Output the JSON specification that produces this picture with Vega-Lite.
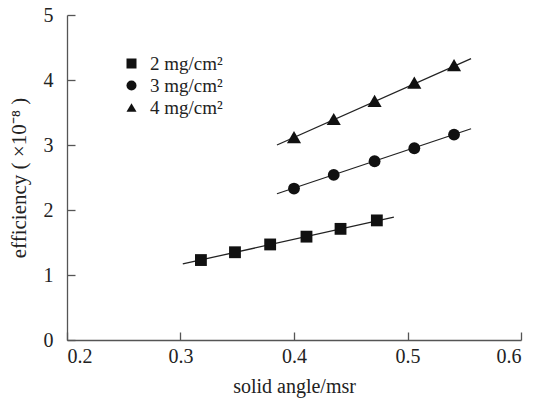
{
  "$schema": "https://vega.github.io/schema/vega-lite/v6.json",
  "width": 454,
  "height": 325,
  "autosize": "none",
  "padding": {"left": 67, "top": 15, "right": 14, "bottom": 67},
  "background": "white",
  "config": {
    "view": {"stroke": null},
    "font": "Liberation Serif",
    "axis": {
      "grid": false,
      "domainColor": "#555555",
      "tickColor": "#555555",
      "labelColor": "#222222",
      "titleColor": "#222222",
      "labelFont": "Liberation Serif",
      "titleFont": "Liberation Serif",
      "labelFontSize": 20,
      "titleFontSize": 20,
      "titleFontWeight": "normal",
      "domainWidth": 1.3,
      "tickWidth": 1.3
    },
    "legend": {
      "labelFont": "Liberation Serif",
      "labelFontSize": 19,
      "labelColor": "#222222"
    }
  },
  "datasets": {
    "points": [
      {"x": 0.318, "y": 1.23, "s": "2 mg/cm²"},
      {"x": 0.348, "y": 1.35, "s": "2 mg/cm²"},
      {"x": 0.379, "y": 1.47, "s": "2 mg/cm²"},
      {"x": 0.411, "y": 1.59, "s": "2 mg/cm²"},
      {"x": 0.441, "y": 1.71, "s": "2 mg/cm²"},
      {"x": 0.473, "y": 1.84, "s": "2 mg/cm²"},
      {"x": 0.400, "y": 2.33, "s": "3 mg/cm²"},
      {"x": 0.435, "y": 2.54, "s": "3 mg/cm²"},
      {"x": 0.471, "y": 2.75, "s": "3 mg/cm²"},
      {"x": 0.506, "y": 2.95, "s": "3 mg/cm²"},
      {"x": 0.541, "y": 3.16, "s": "3 mg/cm²"},
      {"x": 0.400, "y": 3.12, "s": "4 mg/cm²"},
      {"x": 0.435, "y": 3.40, "s": "4 mg/cm²"},
      {"x": 0.471, "y": 3.68, "s": "4 mg/cm²"},
      {"x": 0.506, "y": 3.96, "s": "4 mg/cm²"},
      {"x": 0.541, "y": 4.23, "s": "4 mg/cm²"}
    ],
    "fits": [
      {"x": 0.302, "y": 1.17, "s": "2 mg/cm²"},
      {"x": 0.488, "y": 1.89, "s": "2 mg/cm²"},
      {"x": 0.385, "y": 2.25, "s": "3 mg/cm²"},
      {"x": 0.556, "y": 3.25, "s": "3 mg/cm²"},
      {"x": 0.385, "y": 3.00, "s": "4 mg/cm²"},
      {"x": 0.556, "y": 4.33, "s": "4 mg/cm²"}
    ]
  },
  "layer": [
    {
      "data": {"name": "fits"},
      "mark": {"type": "line", "color": "#222222", "strokeWidth": 1.3},
      "encoding": {
        "x": {"field": "x", "type": "quantitative", "scale": {"domain": [0.2, 0.6], "nice": false, "zero": false},
              "axis": {"title": "solid angle/msr", "values": [0.2, 0.3, 0.4, 0.5, 0.6], "format": ".1f", "tickSize": -8, "labelPadding": 14, "titlePadding": 10}},
        "y": {"field": "y", "type": "quantitative", "scale": {"domain": [0, 5], "nice": false},
              "axis": {"title": "efficiency  ( ×10⁻⁸ )", "titleFontSize": 21, "values": [0, 1, 2, 3, 4, 5], "format": "d", "tickSize": -8, "labelPadding": 22, "titlePadding": 14}},
        "detail": {"field": "s"}
      }
    },
    {
      "data": {"name": "points"},
      "transform": [{"filter": "datum.s != '4 mg/cm²'"}],
      "mark": {"type": "point", "filled": true, "opacity": 1, "color": "#111111", "size": 140},
      "encoding": {
        "x": {"field": "x", "type": "quantitative"},
        "y": {"field": "y", "type": "quantitative"},
        "shape": {"field": "s", "type": "nominal",
                  "scale": {"domain": ["2 mg/cm²", "3 mg/cm²", "4 mg/cm²"], "range": ["square", "circle", "triangle-up"]},
                  "legend": {"title": null, "orient": "none", "legendX": 55, "legendY": 39, "symbolSize": 100, "symbolFillColor": "#111111", "symbolStrokeColor": "#111111", "rowPadding": 2, "labelOffset": 9}}
      }
    },
    {
      "data": {"name": "points"},
      "transform": [{"filter": "datum.s == '4 mg/cm²'"}],
      "mark": {"type": "point", "filled": true, "opacity": 1, "color": "#111111", "size": 200},
      "encoding": {
        "x": {"field": "x", "type": "quantitative"},
        "y": {"field": "y", "type": "quantitative"},
        "shape": {"field": "s", "type": "nominal"}
      }
    }
  ]
}
